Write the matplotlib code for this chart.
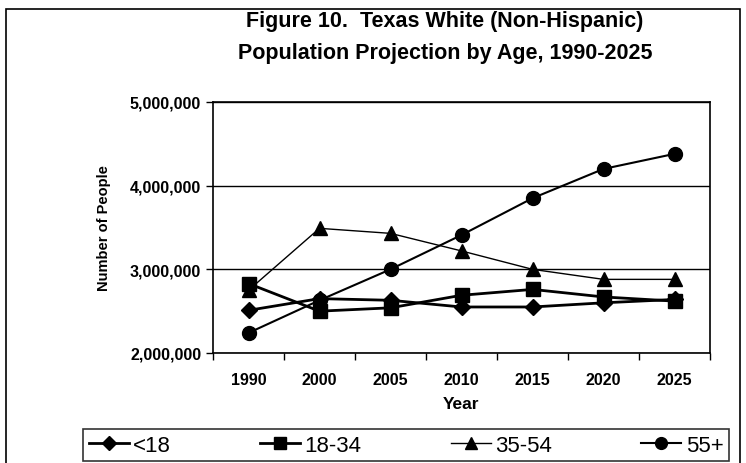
import matplotlib.pyplot as plt
from matplotlib.patches import Rectangle
from matplotlib.ticker import FuncFormatter

years = ['1990', '2000', '2005', '2010', '2015', '2020', '2025']
under18 = [2510000, 2650000, 2630000, 2550000, 2550000, 2600000, 2640000]
age18_34 = [2830000, 2500000, 2540000, 2690000, 2760000, 2670000, 2620000]
age35_54 = [2750000, 3490000, 3430000, 3220000, 3000000, 2880000, 2880000]
age55plus = [2240000, 2630000, 3000000, 3410000, 3850000, 4200000, 4380000]

plt.rcParams['font.family'] = ['Liberation Sans', 'DejaVu Sans']

fig = plt.figure(figsize=(7.46, 4.64), dpi=100)
ax = fig.add_axes([213/746, 1 - 354/464, (710 - 213)/746, (354 - 103)/464])

x = range(len(years))
ax.plot(x, under18, color='black', lw=2, marker='D', ms=8, label='<18')
ax.plot(x, age18_34, color='black', lw=2, marker='s', ms=10, label='18-34')
ax.plot(x, age35_54, color='black', lw=1, marker='^', ms=10, label='35-54')
ax.plot(x, age55plus, color='black', lw=1.5, marker='o', ms=10, label='55+')

ax.set_xlim(-0.5, 6.5)
ax.set_ylim(2000000, 5000000)
ax.set_yticks([2000000, 3000000, 4000000, 5000000])
ax.yaxis.set_major_formatter(FuncFormatter(lambda v, p: f'{int(v):,}'))
ax.set_xticks(list(x))
ax.set_xticklabels(years)
ax.set_xticks([i - 0.5 for i in range(8)], minor=True)
ax.tick_params(axis='x', which='major', length=0, pad=14, labelsize=11.5)
ax.tick_params(axis='x', which='minor', length=5, direction='out', width=1)
ax.tick_params(axis='y', length=5, width=1, labelsize=11.5)
for lab in ax.get_xticklabels() + ax.get_yticklabels():
    lab.set_fontweight('bold')
ax.grid(True, axis='y', color='black', lw=1)
for s in ax.spines.values():
    s.set_linewidth(1.2)

ax.set_xlabel('Year', fontsize=12.5, fontweight='bold', labelpad=6)
ax.set_ylabel('Number of People', fontsize=10.5, fontweight='bold', labelpad=14)

fig.text(445/746, 1 - 22/464, 'Figure 10.  Texas White (Non-Hispanic)',
         ha='center', va='center', fontsize=15.5, fontweight='bold')
fig.text(445/746, 1 - 54/464, 'Population Projection by Age, 1990-2025',
         ha='center', va='center', fontsize=15.5, fontweight='bold')

# outer frame
fig.patches.append(Rectangle((6/746, -0.01), (740 - 6)/746, 1 - 10/464 + 0.01,
                             transform=fig.transFigure, fill=False,
                             edgecolor='black', lw=1.2))

leg = fig.legend(loc='lower left', bbox_to_anchor=(72/746, -0.02, 668/746, 50/464),
                 mode='expand', ncol=4, fontsize=16, frameon=True, fancybox=False,
                 edgecolor='black', handlelength=1.8, borderpad=0.25,
                 handletextpad=0.2, markerscale=0.85)
leg.get_frame().set_linewidth(1.2)

fig.savefig('out.png', dpi=100)
